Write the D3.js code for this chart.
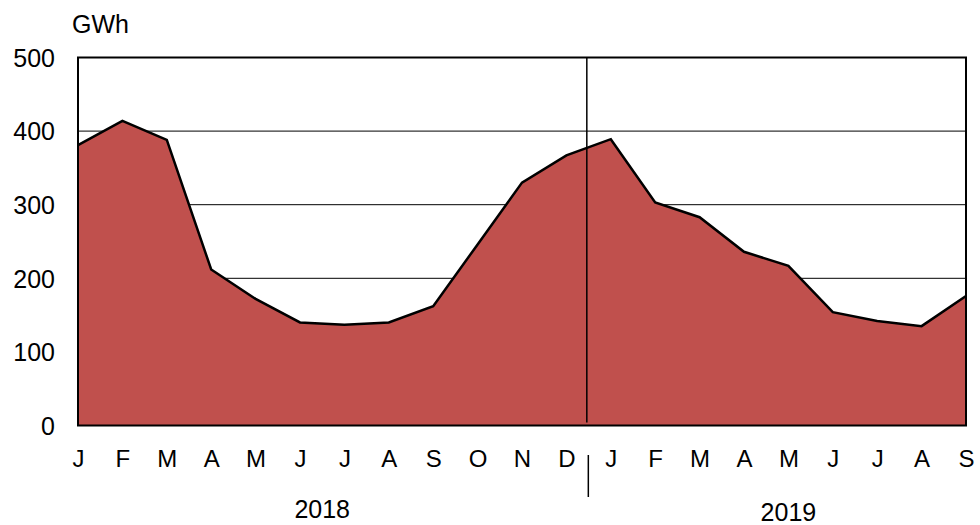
<!DOCTYPE html>
<html>
<head>
<meta charset="utf-8">
<script src="https://cdn.jsdelivr.net/npm/d3@7"></script>
<style>
  body { margin: 0; background: #fff; }
  text { font-family: "Liberation Sans", Arial, sans-serif; fill: #000; }
</style>
</head>
<body>
<div id="chart"></div>
<script>
// monthly values, Jan 2018 - Sep 2019 (GWh)
const months = ["J","F","M","A","M","J","J","A","S","O","N","D",
                "J","F","M","A","M","J","J","A","S"];
const values = [381, 414, 388, 212, 172, 140, 137, 140, 162, 246, 330, 367,
                389, 303, 283, 236, 217, 154, 142, 135, 176];
const years = ["2018", "2019"];
const yTicks = [0, 100, 200, 300, 400, 500];

const width = 980, height = 525;
const plotLeft = 78, plotRight = 966, plotTop = 57.5, plotBottom = 425.5;

const svg = d3.select("#chart")
  .append("svg")
    .attr("width", width)
    .attr("height", height);

const x = d3.scaleLinear()
  .domain([0, months.length - 1])
  .range([plotLeft, plotRight]);

const y = d3.scaleLinear()
  .domain([0, 500])
  .range([plotBottom, plotTop]);

// gridlines
svg.append("g")
  .selectAll("line")
  .data(yTicks.filter(d => d > 0 && d < 500))
  .join("line")
    .attr("x1", plotLeft).attr("x2", plotRight)
    .attr("y1", d => y(d)).attr("y2", d => y(d))
    .attr("stroke", "#000")
    .attr("stroke-width", 1);

// area
const area = d3.area()
  .x((d, i) => x(i))
  .y0(y(0))
  .y1(d => y(d));

svg.append("path")
  .datum(values)
  .attr("d", area)
  .attr("fill", "#C0504D");

const line = d3.line()
  .x((d, i) => x(i))
  .y(d => y(d));

svg.append("path")
  .datum(values)
  .attr("d", line)
  .attr("fill", "none")
  .attr("stroke", "#000")
  .attr("stroke-width", 2.5)
  .attr("stroke-linejoin", "miter");

// year divider
const split = x(11.46);
svg.append("line")
  .attr("x1", split).attr("x2", split)
  .attr("y1", plotTop).attr("y2", plotBottom - 3)
  .attr("stroke", "#000").attr("stroke-width", 1.5);
svg.append("line")
  .attr("x1", split + 1.5).attr("x2", split + 1.5)
  .attr("y1", 455).attr("y2", 497)
  .attr("stroke", "#000").attr("stroke-width", 1.5);

// frame
svg.append("rect")
  .attr("x", plotLeft).attr("y", plotTop)
  .attr("width", plotRight - plotLeft).attr("height", plotBottom - plotTop)
  .attr("fill", "none")
  .attr("stroke", "#000")
  .attr("stroke-width", 2);

// y axis
const yAxis = svg.append("g")
  .attr("transform", `translate(${plotLeft - 23},0)`)
  .call(d3.axisLeft(y).tickValues(yTicks).tickSize(0).tickPadding(0));
yAxis.select(".domain").remove();
yAxis.selectAll("text")
  .style("font-size", "25px")
  .attr("dy", "0.35em");

// x axis
const xAxis = svg.append("g")
  .attr("transform", `translate(0,${plotBottom})`)
  .call(d3.axisBottom(x)
    .tickValues(d3.range(months.length))
    .tickFormat(i => months[i])
    .tickSize(0).tickPadding(0));
xAxis.select(".domain").remove();
xAxis.selectAll("text")
  .style("font-size", "24px")
  .attr("dy", null)
  .attr("y", 41);

// year labels
const yearPos = [[0, 11], [12, months.length - 1]];
svg.selectAll(".year")
  .data(years)
  .join("text")
    .attr("class", "year")
    .attr("x", (d, i) => (x(yearPos[i][0]) + x(yearPos[i][1])) / 2)
    .attr("y", (d, i) => i === 0 ? 518 : 520.5)
    .attr("text-anchor", "middle")
    .style("font-size", "25px")
    .text(d => d);

// unit label
svg.append("text")
  .attr("x", 72)
  .attr("y", 32.5)
  .style("font-size", "25px")
  .text("GWh");
</script>
</body>
</html>
